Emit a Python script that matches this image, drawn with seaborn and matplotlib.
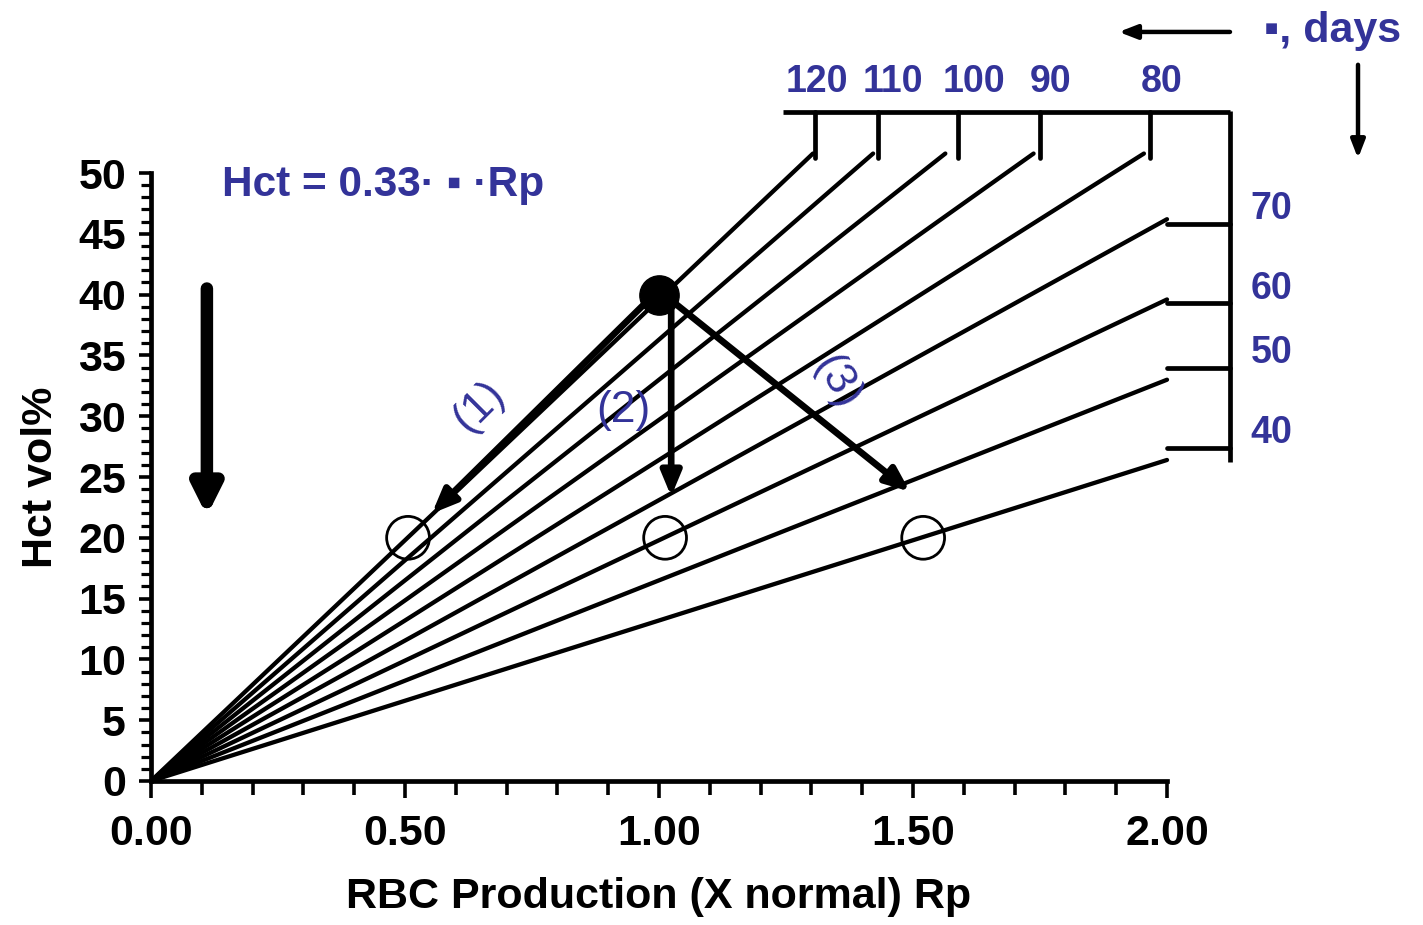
import numpy as np
import pandas as pd
import matplotlib
matplotlib.use("Agg")
import matplotlib.pyplot as plt
import seaborn as sns
from matplotlib.ticker import MultipleLocator

# ---- data ----
coef = 0.33
lifespans = [120, 110, 100, 90, 80, 70, 60, 50, 40]          # tau, days
hct_top = 51.6                                               # lines stop here
rp_max = 2.0
top_labels = ["120", "110", "100", "90", "80"]
top_tick_rp = [1.307, 1.431, 1.589, 1.750, 1.967]
top_label_rp = [1.31, 1.46, 1.62, 1.77, 1.99]
right_labels = ["70", "60", "50", "40"]
right_tick_hct = [45.8, 39.3, 34.0, 27.4]
normal_point = (1.0, 40.0)
open_points_rp = [0.506, 1.012, 1.52]
open_points_hct = [20.0, 20.0, 20.0]
arrow1_end = (0.553, 22.0)
arrow2 = ((1.024, 40.0), (1.024, 23.4))
arrow3_end = (1.494, 23.8)

BLUE = "#333399"
sns.set_theme(style="white")
plt.rcParams["font.family"] = ["Liberation Sans", "DejaVu Sans"]
plt.rcParams["text.color"] = "black"
plt.rcParams["xtick.color"] = "black"
plt.rcParams["ytick.color"] = "black"
plt.rcParams["axes.labelcolor"] = "black"

rows = []
for tau in lifespans:
    slope = coef * tau
    x_end = min(rp_max, hct_top / slope)
    for x in (0.0, x_end):
        rows.append({"tau": tau, "Rp": x, "Hct": slope * x})
df = pd.DataFrame(rows)

fig = plt.figure(figsize=(14.23, 9.25), dpi=100)
ax = fig.add_axes([151 / 1423, 144 / 925, 1016 / 1423, 608 / 925])

sns.lineplot(data=df, x="Rp", y="Hct", units="tau", estimator=None,
             color="black", lw=3.1, ax=ax, legend=False, clip_on=False)

ax.set_xlim(0, 2.0)
ax.set_ylim(0, 50)
for s in ["top", "right"]:
    ax.spines[s].set_visible(False)
for s in ["left", "bottom"]:
    ax.spines[s].set_linewidth(3.4)
    ax.spines[s].set_color("black")

ax.xaxis.set_major_locator(MultipleLocator(0.5))
ax.xaxis.set_minor_locator(MultipleLocator(0.1))
ax.yaxis.set_major_locator(MultipleLocator(5))
ax.yaxis.set_minor_locator(MultipleLocator(1))
ax.tick_params(axis="x", which="major", direction="out", length=12, width=2.6,
               labelsize=31, pad=12, bottom=True, colors="black")
ax.tick_params(axis="x", which="minor", direction="out", length=10, width=2.6,
               bottom=True, colors="black")
ax.tick_params(axis="y", which="major", direction="out", length=9, width=2.6,
               labelsize=31, pad=9, left=True, colors="black")
ax.tick_params(axis="y", which="minor", direction="out", length=7, width=2.3,
               left=True, colors="black")
ax.set_xticklabels([f"{v:.2f}" for v in ax.get_xticks()])
for lab in ax.get_xticklabels() + ax.get_yticklabels():
    lab.set_fontweight("bold")
    lab.set_color("black")

ax.set_xlabel("RBC Production (X normal) Rp", fontsize=31, fontweight="bold",
              labelpad=16, color="black")
ax.set_ylabel("Hct vol%", fontsize=31, fontweight="bold", labelpad=12, color="black")

# top scale
top_y = 55.0
ax.plot([1.244, 2.124], [top_y, top_y], color="black", lw=3.4, clip_on=False,
        solid_capstyle="butt")
for xt in top_tick_rp:
    ax.plot([xt, xt], [top_y, 51.2], color="black", lw=3.4, clip_on=False)
for lab, xl in zip(top_labels, top_label_rp):
    ax.text(xl, 57.5, lab, ha="center", va="center", fontsize=27,
            fontweight="bold", color=BLUE, clip_on=False)
# right scale
ax.plot([2.124, 2.124], [top_y + 0.1, 26.2], color="black", lw=3.4, clip_on=False,
        solid_capstyle="butt")
for yt in right_tick_hct:
    ax.plot([2.0, 2.124], [yt, yt], color="black", lw=3.4, clip_on=False)
for lab, yt in zip(right_labels, right_tick_hct):
    ax.text(2.165, yt + 1.2, lab, ha="left", va="center", fontsize=27,
            fontweight="bold", color=BLUE, clip_on=False)

# tau, days label with arrows
ax.text(2.19, 61.7, "▪, days", ha="left", va="center", fontsize=31,
        fontweight="bold", color=BLUE, clip_on=False)
ax.annotate("", xy=(1.905, 61.6), xytext=(2.124, 61.6), annotation_clip=False,
            arrowprops=dict(arrowstyle="-|>,head_length=0.9,head_width=0.35",
                            lw=3.2, color="black", shrinkA=0, shrinkB=0))
ax.annotate("", xy=(2.376, 51.2), xytext=(2.376, 58.9), annotation_clip=False,
            arrowprops=dict(arrowstyle="-|>,head_length=0.9,head_width=0.35",
                            lw=3.2, color="black", shrinkA=0, shrinkB=0))

# formula
ax.text(0.14, 49.0, "Hct = 0.33· ▪ ·Rp", ha="left", va="center", fontsize=30.5,
        fontweight="bold", color=BLUE)

# big down arrow
ax.annotate("", xy=(0.11, 21.8), xytext=(0.11, 40.5),
            arrowprops=dict(arrowstyle="-|>,head_length=1.4,head_width=0.7",
                            lw=9, color="black", shrinkA=0, shrinkB=0))

# transitions
x0, y0 = normal_point
style = "-|>,head_length=1.2,head_width=0.5"
ax.annotate("", xy=arrow1_end, xytext=(x0 - 0.01, y0), annotation_clip=False,
            arrowprops=dict(arrowstyle=style, lw=4.8, color="black",
                            shrinkA=0, shrinkB=0))
ax.annotate("", xy=arrow2[1], xytext=arrow2[0],
            arrowprops=dict(arrowstyle=style, lw=4.8, color="black",
                            shrinkA=0, shrinkB=0))
ax.annotate("", xy=arrow3_end, xytext=(x0 + 0.01, y0),
            arrowprops=dict(arrowstyle=style, lw=4.8, color="black",
                            shrinkA=0, shrinkB=0))
ax.scatter([x0], [y0], s=800, color="black", zorder=5, clip_on=False)
ax.scatter(open_points_rp, open_points_hct, s=950, facecolors="none",
           edgecolors="black", linewidths=2.0, zorder=5)

ax.text(0.645, 30.8, "(1)", rotation=45, ha="center", va="center",
        fontsize=32, color=BLUE)
ax.text(0.93, 30.5, "(2)", rotation=0, ha="center", va="center",
        fontsize=32, color=BLUE)
ax.text(1.35, 32.8, "(3)", rotation=-60, ha="center", va="center",
        fontsize=32, color=BLUE)

fig.savefig("out.png", dpi=100)
